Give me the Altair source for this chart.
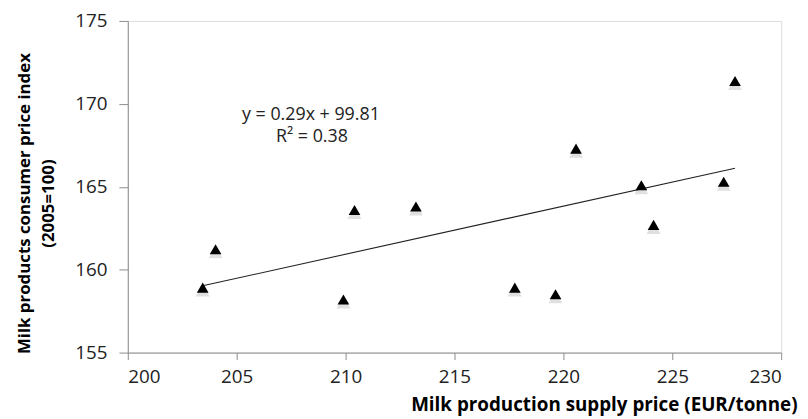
import altair as alt
import pandas as pd

supply_price = [203.44, 204.03, 209.90, 210.41, 213.23, 217.77, 219.64, 220.58, 223.58, 224.14, 227.36, 227.88]
consumer_index = [158.92, 161.23, 158.20, 163.60, 163.81, 158.92, 158.52, 167.30, 165.09, 162.70, 165.30, 171.38]
equation_lines = ["y = 0.29x + 99.81", "R² = 0.38"]
x_title = "Milk production supply price (EUR/tonne)"
y_title = ["Milk products consumer price index", "(2005=100)"]

df = pd.DataFrame({"x": supply_price, "y": consumer_index})

FONT = "Open Sans"
W, H = 660, 335

xs = alt.Scale(domain=[200, 230], nice=False, zero=False)
ys = alt.Scale(domain=[155, 175], nice=False, zero=False)

x_axis = alt.Axis(
    values=[200, 205, 210, 215, 220, 225, 230], grid=False,
    domainColor="#8c8c8c", tickColor="#8c8c8c", tickSize=7,
    labelFont=FONT, labelFontSize=19, labelColor="#222", labelPadding=8,
    title=x_title, titleFont=FONT, titleFontSize=19, titleFontWeight="bold",
    titleColor="#000", titleAlign="right", titleAnchor="end",
    titleX=676, titleY=58, titleBaseline="alphabetic",
)
y_axis = alt.Axis(
    values=[155, 160, 165, 170, 175], grid=False,
    domainColor="#8c8c8c", tickColor="#8c8c8c", tickSize=9,
    labelFont=FONT, labelFontSize=19, labelColor="#222", labelPadding=12,
    title=y_title, titleFont=FONT, titleFontSize=17, titleFontWeight="bold",
    titleColor="#000", titleAngle=270, titleAlign="center",
    titleBaseline="middle", titleLineHeight=24, titleX=-104, titleY=184,
)

base = alt.Chart(df)

shadow = base.mark_point(shape="triangle-up", filled=True, color="#000", opacity=0.12, size=200).encode(
    x=alt.X("x:Q", scale=xs, axis=x_axis),
    y=alt.Y("y:Q", scale=ys, axis=y_axis),
    yOffset=alt.value(3),
)

points = base.mark_point(shape="triangle-up", filled=True, color="#000", opacity=1, size=140).encode(
    x=alt.X("x:Q", scale=xs, axis=x_axis),
    y=alt.Y("y:Q", scale=ys, axis=y_axis),
)

trend = base.transform_regression("x", "y").mark_line(color="#222", strokeWidth=1.1).encode(
    x=alt.X("x:Q", scale=xs, axis=x_axis),
    y=alt.Y("y:Q", scale=ys, axis=y_axis),
)

one = pd.DataFrame({"k": [0]})
eq1 = alt.Chart(one).mark_text(
    text=equation_lines[0], font=FONT, fontSize=18, color="#222",
    align="center", baseline="alphabetic",
).encode(x=alt.value(185), y=alt.value(100))
eq2 = alt.Chart(one).mark_text(
    text=equation_lines[1], font=FONT, fontSize=18, color="#222",
    align="center", baseline="alphabetic",
).encode(x=alt.value(186), y=alt.value(122))

chart = alt.layer(shadow, trend, points, eq1, eq2).properties(
    width=W, height=H,
    autosize=alt.AutoSizeParams(type="none"),
    padding={"left": 121, "top": 11, "right": 19, "bottom": 64},
).configure_view(stroke=None).configure(background="white")

chart.save("out.html", embed_options={"renderer": "svg", "actions": False})
